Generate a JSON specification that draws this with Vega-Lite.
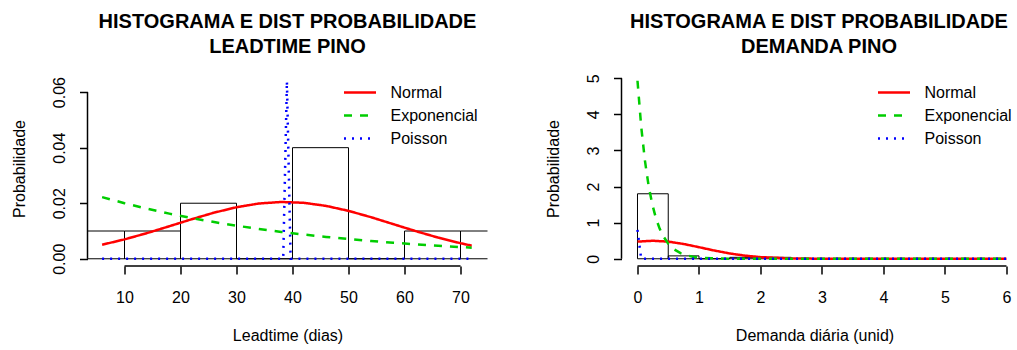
{
  "$schema": "https://vega.github.io/schema/vega-lite/v6.json",
  "background": "white",
  "padding": {"left": 11.5, "top": 12, "right": 0, "bottom": 0},
  "spacing": 134,
  "bounds": "flush",
  "config": {
    "view": {"stroke": null},
    "font": "Liberation Sans",
    "axis": {
      "grid": false, "domain": false, "tickColor": "black", "tickWidth": 1.5, "tickSize": 8,
      "labelColor": "black", "labelFontSize": 16, "labelFont": "Liberation Sans",
      "labelFlush": false, "labelOverlap": false,
      "titleFont": "Liberation Sans", "titleFontSize": 16, "titleFontWeight": "normal", "titleColor": "black"
    },
    "legend": {"orient": "none", "legendX": 263, "legendY": 12, "title": null, "symbolType": "M -2,0 L 2,0", "symbolSize": 256, "symbolStrokeWidth": 2.5, "labelFontSize": 16, "labelFont": "Liberation Sans", "labelColor": "black", "labelOffset": 21, "rowPadding": 5, "padding": 0},
    "title": {"font": "Liberation Sans", "fontSize": 20, "fontWeight": "bold", "color": "black", "anchor": "middle", "frame": "group", "lineHeight": 25, "offset": 14}
  },
  "datasets": {
    "histLead": [
      {"lo": 0, "hi": 10, "dens": 0.01},
      {"lo": 10, "hi": 20, "dens": 0.01},
      {"lo": 20, "hi": 30, "dens": 0.02},
      {"lo": 30, "hi": 40, "dens": 0},
      {"lo": 40, "hi": 50, "dens": 0.04},
      {"lo": 50, "hi": 60, "dens": 0},
      {"lo": 60, "hi": 70, "dens": 0.01},
      {"lo": 70, "hi": 80, "dens": 0.01}
    ],
    "curvesLead": [
      {"x": 6, "y": 0.00506, "dist": "Normal"},
      {"x": 10, "y": 0.00698, "dist": "Normal"},
      {"x": 14, "y": 0.00923, "dist": "Normal"},
      {"x": 18, "y": 0.01171, "dist": "Normal"},
      {"x": 22, "y": 0.01424, "dist": "Normal"},
      {"x": 26, "y": 0.01661, "dist": "Normal"},
      {"x": 30, "y": 0.01856, "dist": "Normal"},
      {"x": 34, "y": 0.0199, "dist": "Normal"},
      {"x": 38, "y": 0.02045, "dist": "Normal"},
      {"x": 42, "y": 0.02015, "dist": "Normal"},
      {"x": 46, "y": 0.01904, "dist": "Normal"},
      {"x": 50, "y": 0.01725, "dist": "Normal"},
      {"x": 54, "y": 0.01498, "dist": "Normal"},
      {"x": 58, "y": 0.01247, "dist": "Normal"},
      {"x": 62, "y": 0.00996, "dist": "Normal"},
      {"x": 66, "y": 0.00762, "dist": "Normal"},
      {"x": 70, "y": 0.0056, "dist": "Normal"},
      {"x": 72, "y": 0.00472, "dist": "Normal"},
      {"x": 6, "y": 0.0222, "dist": "Exponencial"},
      {"x": 10, "y": 0.02, "dist": "Exponencial"},
      {"x": 14, "y": 0.01802, "dist": "Exponencial"},
      {"x": 18, "y": 0.01625, "dist": "Exponencial"},
      {"x": 22, "y": 0.01465, "dist": "Exponencial"},
      {"x": 26, "y": 0.01321, "dist": "Exponencial"},
      {"x": 30, "y": 0.01191, "dist": "Exponencial"},
      {"x": 34, "y": 0.01074, "dist": "Exponencial"},
      {"x": 38, "y": 0.00968, "dist": "Exponencial"},
      {"x": 42, "y": 0.00873, "dist": "Exponencial"},
      {"x": 46, "y": 0.00787, "dist": "Exponencial"},
      {"x": 50, "y": 0.00709, "dist": "Exponencial"},
      {"x": 54, "y": 0.0064, "dist": "Exponencial"},
      {"x": 58, "y": 0.00577, "dist": "Exponencial"},
      {"x": 62, "y": 0.0052, "dist": "Exponencial"},
      {"x": 66, "y": 0.00469, "dist": "Exponencial"},
      {"x": 70, "y": 0.00423, "dist": "Exponencial"},
      {"x": 72, "y": 0.00401, "dist": "Exponencial"},
      {"x": 6, "y": 0, "dist": "Poisson"},
      {"x": 38.34, "y": 0, "dist": "Poisson"},
      {"x": 39, "y": 0.0639, "dist": "Poisson"},
      {"x": 39.66, "y": 0, "dist": "Poisson"},
      {"x": 72, "y": 0, "dist": "Poisson"}
    ],
    "histDem": [
      {"lo": 0, "hi": 0.5, "dens": 1.8},
      {"lo": 0.5, "hi": 1, "dens": 0.08},
      {"lo": 1, "hi": 1.5, "dens": 0},
      {"lo": 1.5, "hi": 2, "dens": 0.04},
      {"lo": 2, "hi": 2.5, "dens": 0.04}
    ],
    "curvesDem": [
      {"x": 0, "y": 0.475, "dist": "Normal"},
      {"x": 0.25, "y": 0.499, "dist": "Normal"},
      {"x": 0.5, "y": 0.475, "dist": "Normal"},
      {"x": 0.75, "y": 0.41, "dist": "Normal"},
      {"x": 1, "y": 0.321, "dist": "Normal"},
      {"x": 1.25, "y": 0.228, "dist": "Normal"},
      {"x": 1.5, "y": 0.147, "dist": "Normal"},
      {"x": 1.75, "y": 0.086, "dist": "Normal"},
      {"x": 2, "y": 0.0456, "dist": "Normal"},
      {"x": 2.5, "y": 0.0096, "dist": "Normal"},
      {"x": 3, "y": 0.0015, "dist": "Normal"},
      {"x": 3.5, "y": 0.0002, "dist": "Normal"},
      {"x": 4, "y": 0, "dist": "Normal"},
      {"x": 6, "y": 0, "dist": "Normal"},
      {"x": 0, "y": 4.93, "dist": "Exponencial"},
      {"x": 0.06, "y": 3.668, "dist": "Exponencial"},
      {"x": 0.12, "y": 2.729, "dist": "Exponencial"},
      {"x": 0.18, "y": 2.03, "dist": "Exponencial"},
      {"x": 0.24, "y": 1.51, "dist": "Exponencial"},
      {"x": 0.3, "y": 1.123, "dist": "Exponencial"},
      {"x": 0.36, "y": 0.836, "dist": "Exponencial"},
      {"x": 0.42, "y": 0.622, "dist": "Exponencial"},
      {"x": 0.5, "y": 0.419, "dist": "Exponencial"},
      {"x": 0.6, "y": 0.256, "dist": "Exponencial"},
      {"x": 0.7, "y": 0.156, "dist": "Exponencial"},
      {"x": 0.8, "y": 0.0955, "dist": "Exponencial"},
      {"x": 0.9, "y": 0.0583, "dist": "Exponencial"},
      {"x": 1, "y": 0.0356, "dist": "Exponencial"},
      {"x": 1.2, "y": 0.0133, "dist": "Exponencial"},
      {"x": 1.5, "y": 0.003, "dist": "Exponencial"},
      {"x": 2, "y": 0.0003, "dist": "Exponencial"},
      {"x": 6, "y": 0, "dist": "Exponencial"},
      {"x": 0, "y": 0.8, "dist": "Poisson"},
      {"x": 0.06, "y": 0, "dist": "Poisson"},
      {"x": 6, "y": 0, "dist": "Poisson"}
    ]
  },
  "resolve": {
    "scale": {"x": "independent", "y": "independent", "color": "independent", "strokeDash": "independent"},
    "legend": {"color": "independent", "strokeDash": "independent"}
  },
  "hconcat": [
    {
      "width": 400,
      "height": 195,
      "title": {"text": ["HISTOGRAMA E DIST PROBABILIDADE", "LEADTIME PINO"]},
      "layer": [
        {
          "data": {"name": "histLead"},
          "mark": {"type": "rect", "fill": "white", "fillOpacity": 0, "stroke": "black", "strokeWidth": 1, "clip": true},
          "encoding": {
            "x": {"field": "lo", "type": "quantitative",
                  "scale": {"domain": [3.39, 74.82], "nice": false, "zero": false},
                  "axis": {"values": [10, 20, 30, 40, 50, 60, 70], "format": "d", "labelBaseline": "alphabetic", "labelPadding": 28.7, "labelOverlap": false,
                           "title": "Leadtime (dias)", "titleX": 200, "titleY": 74.7, "titleBaseline": "alphabetic", "titleAlign": "center"}},
            "x2": {"field": "hi"},
            "y": {"field": "dens", "type": "quantitative",
                  "scale": {"domain": [-0.0026, 0.0676], "nice": false, "zero": false},
                  "axis": {"values": [0, 0.02, 0.04, 0.06], "format": ".2f", "labelAngle": 270, "labelAlign": "center", "labelBaseline": "alphabetic", "labelPadding": 15, "labelOverlap": false,
                           "title": "Probabilidade", "titleAngle": 270, "titleX": -63, "titleY": 97.5, "titleBaseline": "alphabetic", "titleAlign": "center"}},
            "y2": {"datum": 0}
          }
        },
        {
          "data": {"name": "curvesLead"},
          "mark": {"type": "line", "strokeWidth": 2.5, "clip": true, "strokeCap": "butt"},
          "encoding": {
            "x": {"field": "x", "type": "quantitative"},
            "y": {"field": "y", "type": "quantitative"},
            "color": {"field": "dist", "type": "nominal",
                      "scale": {"domain": ["Normal", "Exponencial", "Poisson"], "range": ["#FF0000", "#00CD00", "#0000FF"]}},
            "strokeDash": {"field": "dist", "type": "nominal",
                      "scale": {"domain": ["Normal", "Exponencial", "Poisson"], "range": [[1, 0], [8, 8], [2, 6]]}}
          }
        },
        {
          "data": {"values": [{}]},
          "mark": {"type": "rule", "color": "black", "strokeWidth": 1.5},
          "encoding": {"x": {"datum": 10}, "x2": {"datum": 70}, "y": {"datum": -0.0026}}
        },
        {
          "data": {"values": [{}]},
          "mark": {"type": "rule", "color": "black", "strokeWidth": 1.5},
          "encoding": {"x": {"datum": 3.39}, "y": {"datum": 0}, "y2": {"datum": 0.06}}
        }
      ]
    },
    {
      "width": 395,
      "height": 195,
      "title": {"text": ["HISTOGRAMA E DIST PROBABILIDADE", "DEMANDA PINO"]},
      "layer": [
        {
          "data": {"name": "histDem"},
          "mark": {"type": "rect", "fill": "white", "fillOpacity": 0, "stroke": "black", "strokeWidth": 1, "clip": true},
          "encoding": {
            "x": {"field": "lo", "type": "quantitative",
                  "scale": {"domain": [-0.26, 6.163], "nice": false, "zero": false},
                  "axis": {"values": [0, 1, 2, 3, 4, 5, 6], "format": "d", "labelBaseline": "alphabetic", "labelPadding": 28.7, "labelOverlap": false,
                           "title": "Demanda diária (unid)", "titleX": 193, "titleY": 74.7, "titleBaseline": "alphabetic", "titleAlign": "center"}},
            "x2": {"field": "hi"},
            "y": {"field": "dens", "type": "quantitative",
                  "scale": {"domain": [-0.2, 5.2], "nice": false, "zero": false},
                  "axis": {"values": [0, 1, 2, 3, 4, 5], "tickCount": 6, "format": "d", "labelAngle": 270, "labelAlign": "center", "labelBaseline": "alphabetic", "labelPadding": 15, "labelOverlap": false,
                           "title": "Probabilidade", "titleAngle": 270, "titleX": -63, "titleY": 97.5, "titleBaseline": "alphabetic", "titleAlign": "center"}},
            "y2": {"datum": 0}
          }
        },
        {
          "data": {"name": "curvesDem"},
          "mark": {"type": "line", "strokeWidth": 2.5, "clip": true, "strokeCap": "butt"},
          "encoding": {
            "x": {"field": "x", "type": "quantitative"},
            "y": {"field": "y", "type": "quantitative"},
            "color": {"field": "dist", "type": "nominal",
                      "scale": {"domain": ["Normal", "Exponencial", "Poisson"], "range": ["#FF0000", "#00CD00", "#0000FF"]}},
            "strokeDash": {"field": "dist", "type": "nominal",
                      "scale": {"domain": ["Normal", "Exponencial", "Poisson"], "range": [[1, 0], [8, 8], [2, 6]]}}
          }
        },
        {
          "data": {"values": [{}]},
          "mark": {"type": "rule", "color": "black", "strokeWidth": 1.5},
          "encoding": {"x": {"datum": 0}, "x2": {"datum": 6}, "y": {"datum": -0.2}}
        },
        {
          "data": {"values": [{}]},
          "mark": {"type": "rule", "color": "black", "strokeWidth": 1.5},
          "encoding": {"x": {"datum": -0.26}, "y": {"datum": 0}, "y2": {"datum": 5}}
        }
      ]
    }
  ]
}
